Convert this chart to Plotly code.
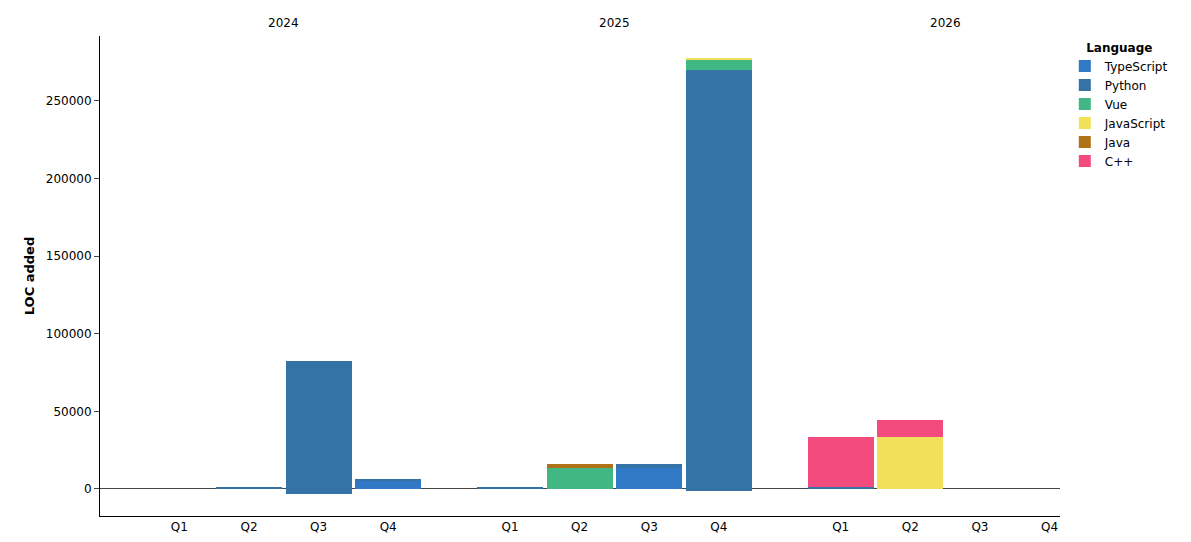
import plotly.graph_objects as go

years = ["2024", "2025", "2026"]
quarters = ["Q1", "Q2", "Q3", "Q4"]
languages = ["TypeScript", "Python", "Vue", "JavaScript", "Java", "C++"]
colors = ["#3178c6", "#3572a5", "#41b883", "#f1e05a", "#b07219", "#f34b7d"]

# values per language, 12 periods (2024Q1..2026Q4)
typescript = [0, 0, 0, 5500, 0, 0, 13500, 0, 0, 0, 0, 0]
python_pos = [0, 900, 82500, 800, 1200, 0, 2600, 270000, 1000, 0, 0, 0]
python_neg = [0, 0, -3500, 0, 0, 0, 0, -1500, 0, 0, 0, 0]
vue = [0, 0, 0, 0, 0, 13500, 0, 6500, 0, 0, 0, 0]
javascript = [0, 0, 0, 0, 0, 0, 0, 1000, 0, 33500, 0, 0]
java = [0, 0, 0, 0, 0, 2800, 0, 0, 0, 0, 0, 0]
cpp = [0, 0, 0, 0, 0, 0, 0, 0, 32500, 11000, 0, 0]

gap = 4.75
xpos = [yi * gap + qi for yi in range(3) for qi in range(4)]
ticktext = [q for _ in years for q in quarters]

fig = go.Figure()
series = [("TypeScript", typescript), ("Python", python_pos), ("Vue", vue),
          ("JavaScript", javascript), ("Java", java), ("C++", cpp)]
for (name, vals), c in zip(series, colors):
    fig.add_bar(x=xpos, y=vals, name=name, marker_color=c, marker_line_width=0,
                width=0.95, legendgroup=name)
    if name == "Python":
        fig.add_bar(x=xpos, y=python_neg, name=name, marker_color=c,
                    marker_line_width=0, width=0.95, legendgroup=name, showlegend=False)

for i, y in enumerate(years):
    fig.add_annotation(x=i * gap + 1.5, y=1.0, yref="paper", text=y, showarrow=False,
                       yanchor="bottom", yshift=4, font=dict(size=12, color="black"))

fig.update_layout(
    barmode="relative", bargap=0,
    width=1191, height=542, paper_bgcolor="white", plot_bgcolor="white",
    margin=dict(l=92, r=139, t=28, b=34, autoexpand=False),
    font=dict(family="DejaVu Sans", size=12, color="black"),
    legend=dict(title=dict(text="<b>Language</b>", side="top center", font=dict(size=12)),
                x=1.005, xanchor="left", y=1.0, yanchor="top", font=dict(size=12),
                tracegroupgap=0, itemwidth=30),
    xaxis=dict(range=[-1.14, 12.65], tickvals=xpos, ticktext=ticktext, showgrid=False,
               zeroline=False, showline=True, linecolor="black", ticks="", automargin=False,
               tickfont=dict(size=12)),
    yaxis=dict(range=[-17400, 291800], showgrid=False, zeroline=True, zerolinecolor="#444",
               zerolinewidth=1, showline=True, linecolor="black", ticks="outside", automargin=False,
               tickvals=[0, 50000, 100000, 150000, 200000, 250000], tickformat="d",
               title=dict(text="<b>LOC added</b>", font=dict(size=13), standoff=8),
               tickfont=dict(size=12)),
)
fig.write_html("out.html")
